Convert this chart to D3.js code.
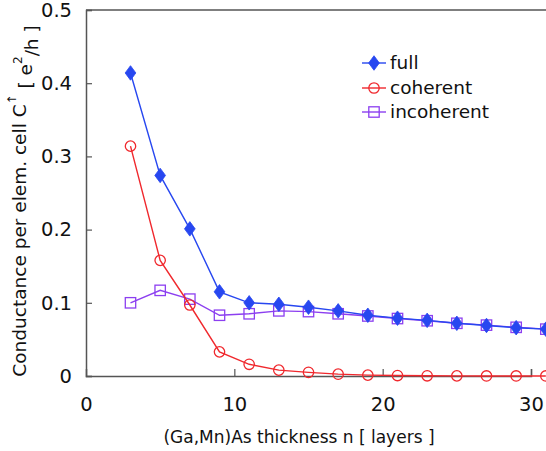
<!DOCTYPE html>
<html>
<head>
<meta charset="utf-8">
<script src="https://cdn.jsdelivr.net/npm/d3@7"></script>
<style>
  html, body { margin: 0; padding: 0; background: #fff; }
  svg { display: block; font-family: "DejaVu Sans", Verdana, sans-serif; }
</style>
</head>
<body>
<svg id="chart" width="546" height="451"></svg>
<script>
const layers = [3, 5, 7, 9, 11, 13, 15, 17, 19, 21, 23, 25, 27, 29, 31];
const full = [0.414, 0.274, 0.201, 0.115, 0.100, 0.098, 0.094, 0.089, 0.083, 0.079, 0.076, 0.072, 0.069, 0.066, 0.064];
const coherent = [0.314, 0.158, 0.097, 0.033, 0.016, 0.008, 0.005, 0.0025, 0.0012, 0.0006, 0.0003, 0.0002, 0.0001, 0.0001, 0.0001];
const incoherent = [0.100, 0.117, 0.105, 0.083, 0.085, 0.089, 0.088, 0.085, 0.082, 0.0785, 0.0755, 0.072, 0.0695, 0.0665, 0.064];
const xTicks = [0, 10, 20, 30];
const yTicks = [0, 0.1, 0.2, 0.3, 0.4, 0.5];
const seriesNames = ["full", "coherent", "incoherent"];
const seriesColors = ["#2747f0", "#f0282d", "#8c3ff0"];

const svg = d3.select("#chart");
const x = d3.scaleLinear().domain([0, 30]).range([86, 531]);
const y = d3.scaleLinear().domain([0, 0.5]).range([376, 10]);
const axisColor = "#555";
const txt = "#111";

svg.append("line").attr("x1", x(0)).attr("x2", 560).attr("y1", y(0.5)).attr("y2", y(0.5))
  .attr("stroke", axisColor).attr("stroke-width", 1.5);

const yAxis = svg.append("g").attr("transform", `translate(${x(0)},0)`)
  .call(d3.axisRight(y).tickValues(yTicks).tickSize(6).tickFormat(d => d === 0 ? "0" : d3.format(".1f")(d)));
yAxis.select(".domain").attr("stroke", axisColor).attr("stroke-width", 1.5);
yAxis.selectAll(".tick line").attr("stroke", axisColor).attr("stroke-width", 1.2);
yAxis.selectAll(".tick text").attr("x", -14).attr("text-anchor", "end")
  .attr("font-size", 19.5).attr("fill", txt).attr("font-family", "DejaVu Sans, Verdana, sans-serif");

const xAxis = svg.append("g").attr("transform", `translate(0,${y(0)})`)
  .call(d3.axisTop(x).tickValues(xTicks).tickSize(7).tickFormat(d3.format("d")));
xAxis.select(".domain").attr("stroke", axisColor).attr("stroke-width", 1.5);
xAxis.selectAll(".tick line").attr("stroke", axisColor).attr("stroke-width", 1.2);
xAxis.selectAll(".tick text").attr("y", 28).attr("dy", "0.35em")
  .attr("font-size", 19.5).attr("fill", txt).attr("font-family", "DejaVu Sans, Verdana, sans-serif");
xAxis.selectAll(".tick").filter(d => d === 0).select("line").remove();

const seriesData = [full, coherent, incoherent];

function drawMarker(g, i, cx, cy) {
  if (i === 0) {
    g.append("path").attr("d", d3.symbol().type(d3.symbolDiamond).size(75)())
      .attr("transform", `translate(${cx},${cy}) scale(1.15,0.9)`)
      .attr("fill", seriesColors[0]).attr("stroke", seriesColors[0]).attr("stroke-width", 0.8);
  } else if (i === 1) {
    g.append("circle").attr("cx", cx).attr("cy", cy).attr("r", 5.2)
      .attr("fill", "none").attr("stroke", seriesColors[1]).attr("stroke-width", 1.3);
  } else {
    g.append("rect").attr("x", cx - 5.2).attr("y", cy - 5.2).attr("width", 10.4).attr("height", 10.4)
      .attr("fill", "none").attr("stroke", seriesColors[2]).attr("stroke-width", 1.3);
  }
}

const line = d3.line().x((d, j) => x(layers[j])).y(d => y(d));
[2, 1, 0].forEach(i => {
  const g = svg.append("g");
  g.append("path").datum(seriesData[i]).attr("d", line)
    .attr("fill", "none").attr("stroke", seriesColors[i]).attr("stroke-width", 1.4);
  seriesData[i].forEach((v, j) => drawMarker(g, i, x(layers[j]), y(v)));
});

const legendX1 = 362, legendX2 = 386, legendY = [63, 88, 112];
seriesNames.forEach((name, i) => {
  const g = svg.append("g");
  g.append("line").attr("x1", legendX1).attr("x2", legendX2).attr("y1", legendY[i]).attr("y2", legendY[i])
    .attr("stroke", seriesColors[i]).attr("stroke-width", 1.4);
  drawMarker(g, i, (legendX1 + legendX2) / 2, legendY[i]);
  g.append("text").attr("x", 390).attr("y", legendY[i]).attr("dy", "0.35em")
    .attr("font-size", 18.5).attr("fill", txt).text(name);
});

svg.append("text").attr("x", 299).attr("y", 437).attr("dy", "0.35em").attr("text-anchor", "middle")
  .attr("font-size", 17).attr("fill", txt).text("(Ga,Mn)As thickness n [ layers ]");

const yt = svg.append("text").attr("transform", "translate(20,201) rotate(-90)")
  .attr("text-anchor", "middle").attr("dy", "0.35em").attr("font-size", 18.5).attr("fill", txt);
yt.append("tspan").text("Conductance per elem. cell C");
yt.append("tspan").attr("font-size", 12).attr("dy", "-0.9em").text("↑");
yt.append("tspan").attr("dy", "0.9em").attr("font-size", 18.5).text(" [ e");
yt.append("tspan").attr("font-size", 12).attr("dy", "-0.9em").text("2");
yt.append("tspan").attr("dy", "0.9em").attr("font-size", 18.5).text("/h ]");
</script>
</body>
</html>
